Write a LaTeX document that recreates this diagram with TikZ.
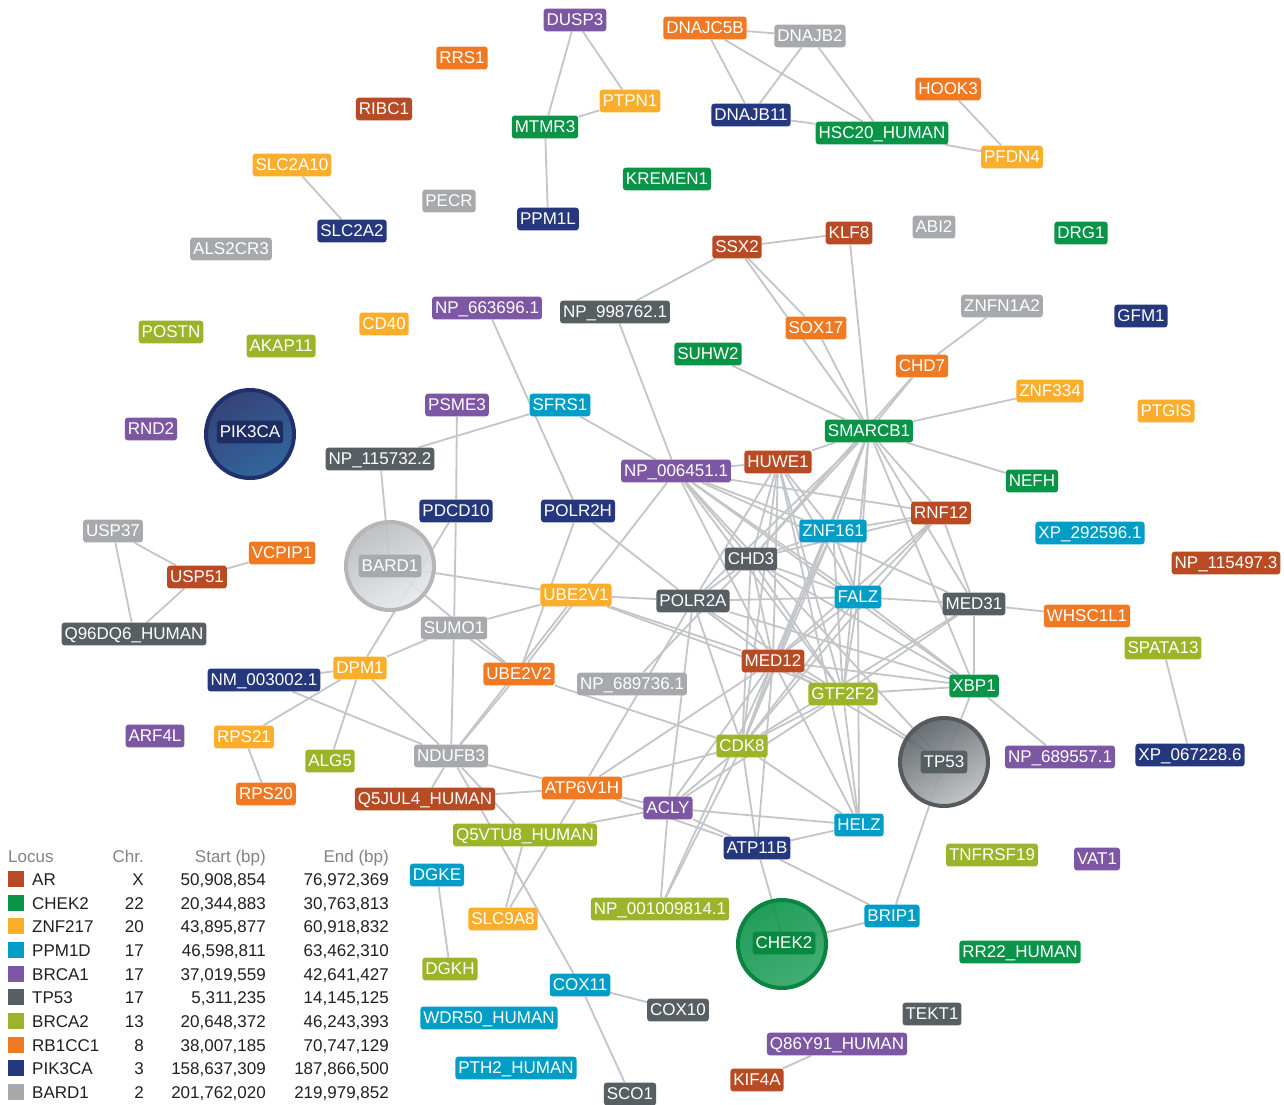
\documentclass[tikz,border=0pt]{standalone}
\usepackage{fontspec}
\setmainfont{Liberation Sans}
\pgfdeclarelayer{bg}
\pgfdeclarelayer{edges}
\pgfdeclarelayer{circles}
\pgfsetlayers{bg,edges,circles,main}
\definecolor{cAR}{RGB}{184,75,36}
\definecolor{cCH}{RGB}{10,148,72}
\definecolor{cZN}{RGB}{250,174,44}
\definecolor{cPP}{RGB}{0,158,198}
\definecolor{cB1}{RGB}{126,87,164}
\definecolor{cTP}{RGB}{88,95,99}
\definecolor{cB2}{RGB}{156,180,42}
\definecolor{cRB}{RGB}{240,122,36}
\definecolor{cPI}{RGB}{38,56,125}
\definecolor{cBA}{RGB}{167,169,172}
\definecolor{edgec}{RGB}{196,197,201}
\definecolor{legtxt}{RGB}{35,31,32}
\definecolor{leghd}{RGB}{128,130,133}
\tikzset{
  lbl/.style={rounded corners=3pt, text=white, inner xsep=3pt, inner ysep=4.5pt,
    text height=12.3pt, text depth=1.5pt, font=\fontsize{17}{17}\selectfont},
  AR/.style={lbl, fill=cAR}, CH/.style={lbl, fill=cCH}, ZN/.style={lbl, fill=cZN},
  PP/.style={lbl, fill=cPP}, B1/.style={lbl, fill=cB1}, TP/.style={lbl, fill=cTP},
  B2/.style={lbl, fill=cB2}, RB/.style={lbl, fill=cRB}, PI/.style={lbl, fill=cPI},
  BA/.style={lbl, fill=cBA},
  ed/.style={draw=edgec, line width=1.8pt},
  bigc/.style={circle, minimum size=88pt, inner sep=0pt, line width=4pt, fill opacity=0.9},
  legt/.style={font=\fontsize{17}{17}\selectfont, text=legtxt, inner sep=0pt},
  legh/.style={font=\fontsize{17}{17}\selectfont, text=leghd, inner sep=0pt}
}
\newcommand\legrow[6]{%
  \fill[#2] (8,#1-8) rectangle (24,#1+8);
  \node[legt, anchor=base west] at (32,#1+6) {#3};
  \node[legt, anchor=base east] at (144,#1+6) {#4};
  \node[legt, anchor=base east] at (266,#1+6) {#5};
  \node[legt, anchor=base east] at (389,#1+6) {#6};
}
\begin{document}
\begin{tikzpicture}[x=1pt,y=-1pt]
\begin{pgfonlayer}{bg}
\fill[white] (0,0) rectangle (1284,1104);
\end{pgfonlayer}
\useasboundingbox (0,0) rectangle (1284,1104);

% big circles
\begin{pgfonlayer}{circles}
\node[bigc, draw=cPI!85!black, top color=cPI!85!black, bottom color=cPI!70!cPP, shading angle=30] (PIKc) at (250,434) {};
\node[bigc, draw=cBA!85!white, top color=cBA!80!white, bottom color=cBA!25!white, shading angle=30] (BARc) at (390,566) {};
\node[bigc, draw=cTP!95!black, top color=cTP, bottom color=cTP!40!white, shading angle=30] (TPc) at (944,762) {};
\node[bigc, draw=cCH!90!black, top color=cCH, bottom color=cCH!85!white, shading angle=30] (CHc) at (782,944) {};
\end{pgfonlayer}

% nodes
\node[B1] (DUSP3) at (575,20) {DUSP3};
\node[RB] (DNAJC5B) at (705,28) {DNAJC5B};
\node[BA] (DNAJB2) at (810,36) {DNAJB2};
\node[RB] (RRS1) at (462,58) {RRS1};
\node[ZN] (PTPN1) at (630,101) {PTPN1};
\node[CH] (MTMR3) at (545,127) {MTMR3};
\node[PI] (DNAJB11) at (751,115) {DNAJB11};
\node[CH] (HSC20) at (882,133) {HSC20\_HUMAN};
\node[RB] (HOOK3) at (948,89) {HOOK3};
\node[ZN] (PFDN4) at (1012,157) {PFDN4};
\node[AR] (RIBC1) at (384,109) {RIBC1};
\node[ZN] (SLC2A10) at (292,165) {SLC2A10};
\node[CH] (KREMEN1) at (667,179) {KREMEN1};
\node[BA] (PECR) at (449,201) {PECR};
\node[PI] (SLC2A2) at (352,231) {SLC2A2};
\node[PI] (PPM1L) at (548,219) {PPM1L};
\node[BA] (ALS2CR3) at (231,249) {ALS2CR3};
\node[AR] (SSX2) at (737,247) {SSX2};
\node[AR] (KLF8) at (849,233) {KLF8};
\node[BA] (ABI2) at (934,227) {ABI2};
\node[CH] (DRG1) at (1081,233) {DRG1};
\node[BA] (ZNFN1A2) at (1002,306) {ZNFN1A2};
\node[PI] (GFM1) at (1141,316) {GFM1};
\node[B1] (NP663696) at (487,308) {NP\_663696.1};
\node[TP] (NP998762) at (615,312) {NP\_998762.1};
\node[B2] (POSTN) at (171,332) {POSTN};
\node[B2] (AKAP11) at (281,346) {AKAP11};
\node[ZN] (CD40) at (384,324) {CD40};
\node[RB] (SOX17) at (816,328) {SOX17};
\node[CH] (SUHW2) at (708,354) {SUHW2};
\node[RB] (CHD7) at (922,366) {CHD7};
\node[ZN] (ZNF334) at (1050,391) {ZNF334};
\node[ZN] (PTGIS) at (1166,411) {PTGIS};
\node[B1] (PSME3) at (457,405) {PSME3};
\node[PP] (SFRS1) at (560,405) {SFRS1};
\node[B1] (RND2) at (151,429) {RND2};
\node[lbl, fill=cPI!80!black] (PIK3CA) at (250,432) {PIK3CA};
\node[CH] (SMARCB1) at (869,431) {SMARCB1};
\node[TP] (NP115732) at (380,459) {NP\_115732.2};
\node[B1] (NP006451) at (676,471) {NP\_006451.1};
\node[AR] (HUWE1) at (778,462) {HUWE1};
\node[CH] (NEFH) at (1032,481) {NEFH};
\node[PI] (PDCD10) at (456,511) {PDCD10};
\node[PI] (POLR2H) at (578,511) {POLR2H};
\node[AR] (RNF12) at (941,513) {RNF12};
\node[PP] (ZNF161) at (833,531) {ZNF161};
\node[PP] (XP292596) at (1090,533) {XP\_292596.1};
\node[BA] (USP37) at (113,531) {USP37};
\node[RB] (VCPIP1) at (282,553) {VCPIP1};
\node[BA] (BARD1) at (390,566) {BARD1};
\node[TP] (CHD3) at (751,559) {CHD3};
\node[AR] (NP115497) at (1226,563) {NP\_115497.3};
\node[AR] (USP51) at (197,577) {USP51};
\node[ZN] (UBE2V1) at (576,595) {UBE2V1};
\node[TP] (POLR2A) at (693,601) {POLR2A};
\node[PP] (FALZ) at (858,597) {FALZ};
\node[TP] (MED31) at (974,604) {MED31};
\node[RB] (WHSC1L1) at (1087,616) {WHSC1L1};
\node[BA] (SUMO1) at (454,628) {SUMO1};
\node[TP] (Q96DQ6) at (134,634) {Q96DQ6\_HUMAN};
\node[B2] (SPATA13) at (1163,648) {SPATA13};
\node[ZN] (DPM1) at (360,668) {DPM1};
\node[PI] (NM003002) at (264,680) {NM\_003002.1};
\node[RB] (UBE2V2) at (519,674) {UBE2V2};
\node[BA] (NP689736) at (632,684) {NP\_689736.1};
\node[AR] (MED12) at (773,661) {MED12};
\node[B2] (GTF2F2) at (843,694) {GTF2F2};
\node[CH] (XBP1) at (974,686) {XBP1};
\node[B1] (ARF4L) at (155,736) {ARF4L};
\node[ZN] (RPS21) at (244,737) {RPS21};
\node[B2] (ALG5) at (330,761) {ALG5};
\node[BA] (NDUFB3) at (451,756) {NDUFB3};
\node[B2] (CDK8) at (742,746) {CDK8};
\node[TP] (TP53) at (944,762) {TP53};
\node[B1] (NP689557) at (1060,757) {NP\_689557.1};
\node[PI] (XP067228) at (1190,755) {XP\_067228.6};
\node[RB] (RPS20) at (266,794) {RPS20};
\node[AR] (Q5JUL4) at (425,799) {Q5JUL4\_HUMAN};
\node[RB] (ATP6V1H) at (582,788) {ATP6V1H};
\node[B1] (ACLY) at (668,808) {ACLY};
\node[PP] (HELZ) at (859,825) {HELZ};
\node[B2] (Q5VTU8) at (525,835) {Q5VTU8\_HUMAN};
\node[PI] (ATP11B) at (757,848) {ATP11B};
\node[B2] (TNFRSF19) at (992,855) {TNFRSF19};
\node[B1] (VAT1) at (1097,859) {VAT1};
\node[PP] (DGKE) at (437,875) {DGKE};
\node[ZN] (SLC9A8) at (503,919) {SLC9A8};
\node[B2] (NP001009814) at (660,909) {NP\_001009814.1};
\node[PP] (BRIP1) at (892,916) {BRIP1};
\node[lbl, fill=cCH!92!black] (CHEK2) at (784,943) {CHEK2};
\node[CH] (RR22) at (1020,952) {RR22\_HUMAN};
\node[B2] (DGKH) at (450,969) {DGKH};
\node[PP] (COX11) at (580,985) {COX11};
\node[TP] (COX10) at (678,1010) {COX10};
\node[PP] (WDR50) at (489,1018) {WDR50\_HUMAN};
\node[TP] (TEKT1) at (932,1014) {TEKT1};
\node[B1] (Q86Y91) at (837,1044) {Q86Y91\_HUMAN};
\node[PP] (PTH2) at (516,1068) {PTH2\_HUMAN};
\node[AR] (KIF4A) at (757,1080) {KIF4A};
\node[TP] (SCO1) at (630,1094) {SCO1};

% edges
\begin{pgfonlayer}{edges}
\foreach \a/\b in {DUSP3/MTMR3, DUSP3/PTPN1, MTMR3/PTPN1, MTMR3/PPM1L,
  DNAJC5B/DNAJB2, DNAJC5B/DNAJB11, DNAJC5B/HSC20, DNAJB2/DNAJB11, DNAJB2/HSC20,
  DNAJB11/HSC20, HSC20/PFDN4, HOOK3/PFDN4, SLC2A10/SLC2A2,
  SSX2/KLF8, SSX2/NP998762, SSX2/SOX17, SSX2/SMARCB1, KLF8/SMARCB1, SOX17/SMARCB1,
  ZNFN1A2/CHD7, CHD7/SMARCB1, CHD7/CHD3, ZNF334/SMARCB1, SMARCB1/NEFH, SUHW2/SMARCB1,
  NP998762/NP006451, NP663696/POLR2H, SFRS1/NP115732, SFRS1/NP006451,
  PSME3/PDCD10, PDCD10/SUMO1, SUMO1/NDUFB3, NP115732/BARD1, PDCD10/DPM1,
  BARD1/UBE2V1, BARD1/UBE2V2, SUMO1/UBE2V2, SUMO1/UBE2V1, SUMO1/DPM1,
  DPM1/NM003002, DPM1/RPS21, DPM1/ALG5, DPM1/NDUFB3, NM003002/NDUFB3, RPS21/RPS20,
  USP37/USP51, USP37/Q96DQ6, USP51/Q96DQ6, USP51/VCPIP1,
  POLR2H/UBE2V2, POLR2H/POLR2A, NP006451/UBE2V2, UBE2V1/POLR2A, UBE2V1/MED12,
  UBE2V1/GTF2F2, UBE2V1/NDUFB3, UBE2V2/NDUFB3, UBE2V2/CDK8, POLR2A/ATP6V1H,
  NP689736/CHD3,
  SMARCB1/HUWE1, SMARCB1/CHD3, SMARCB1/ZNF161, SMARCB1/RNF12, SMARCB1/FALZ,
  SMARCB1/MED12, SMARCB1/GTF2F2, SMARCB1/XBP1, SMARCB1/CDK8, SMARCB1/POLR2A, SMARCB1/MED31,
  HUWE1/NP006451, HUWE1/CHD3, HUWE1/ZNF161, HUWE1/FALZ, HUWE1/MED12, HUWE1/GTF2F2,
  HUWE1/CDK8, HUWE1/POLR2A, HUWE1/HELZ,
  NP006451/CHD3, NP006451/ZNF161, NP006451/FALZ, NP006451/MED12, NP006451/MED31,
  NP006451/XBP1, NP006451/RNF12, NP006451/GTF2F2, NP006451/TP53,
  CHD3/ZNF161, CHD3/RNF12, CHD3/FALZ, CHD3/MED12, CHD3/POLR2A, CHD3/CDK8, CHD3/GTF2F2, CHD3/XBP1,
  ZNF161/RNF12, ZNF161/FALZ, ZNF161/MED12, ZNF161/CDK8, ZNF161/GTF2F2,
  RNF12/FALZ, RNF12/MED31, RNF12/CDK8, RNF12/MED12,
  FALZ/MED12, FALZ/MED31, FALZ/POLR2A, FALZ/GTF2F2, FALZ/XBP1, FALZ/CDK8, FALZ/HELZ,
  POLR2A/MED12, POLR2A/CDK8, POLR2A/GTF2F2, POLR2A/XBP1, POLR2A/ACLY,
  MED12/GTF2F2, MED12/XBP1, MED12/CDK8, MED12/ACLY, MED12/ATP11B, MED12/HELZ, MED12/TP53,
  MED12/NP001009814,
  GTF2F2/XBP1, GTF2F2/TP53, GTF2F2/CDK8, GTF2F2/HELZ, GTF2F2/ACLY, GTF2F2/MED31,
  XBP1/TP53, XBP1/MED31, CDK8/ACLY, CDK8/ATP11B, CDK8/HELZ, CDK8/MED31,
  NDUFB3/ATP6V1H, NDUFB3/Q5JUL4, NDUFB3/Q5VTU8, NDUFB3/COX11, Q5JUL4/ATP6V1H,
  ATP6V1H/SLC9A8, Q5VTU8/SLC9A8, Q5VTU8/ACLY, ATP6V1H/ACLY, ATP6V1H/ATP11B,
  ATP6V1H/CDK8, ATP6V1H/MED12, ACLY/NP001009814, CDK8/NP001009814, ACLY/HELZ,
  ACLY/ATP11B, ATP11B/HELZ, ATP11B/CHEK2, ATP11B/BRIP1, CHEK2/BRIP1, TP53/BRIP1,
  COX11/COX10, COX11/SCO1, DGKE/DGKH, Q86Y91/KIF4A, SPATA13/XP067228,
  XBP1/NP689557, MED31/WHSC1L1}
  \draw[ed] (\a) -- (\b);
\end{pgfonlayer}

% legend
\node[legh, anchor=base west] at (8,862) {Locus};
\node[legh, anchor=base east] at (144,862) {Chr.};
\node[legh, anchor=base east] at (266,862) {Start (bp)};
\node[legh, anchor=base east] at (389,862) {End (bp)};
\legrow{879}{cAR}{AR}{X}{50,908,854}{76,972,369}
\legrow{903}{cCH}{CHEK2}{22}{20,344,883}{30,763,813}
\legrow{926}{cZN}{ZNF217}{20}{43,895,877}{60,918,832}
\legrow{950}{cPP}{PPM1D}{17}{46,598,811}{63,462,310}
\legrow{974}{cB1}{BRCA1}{17}{37,019,559}{42,641,427}
\legrow{997}{cTP}{TP53}{17}{5,311,235}{14,145,125}
\legrow{1021}{cB2}{BRCA2}{13}{20,648,372}{46,243,393}
\legrow{1045}{cRB}{RB1CC1}{8}{38,007,185}{70,747,129}
\legrow{1068}{cPI}{PIK3CA}{3}{158,637,309}{187,866,500}
\legrow{1092}{cBA}{BARD1}{2}{201,762,020}{219,979,852}
\end{tikzpicture}
\end{document}
